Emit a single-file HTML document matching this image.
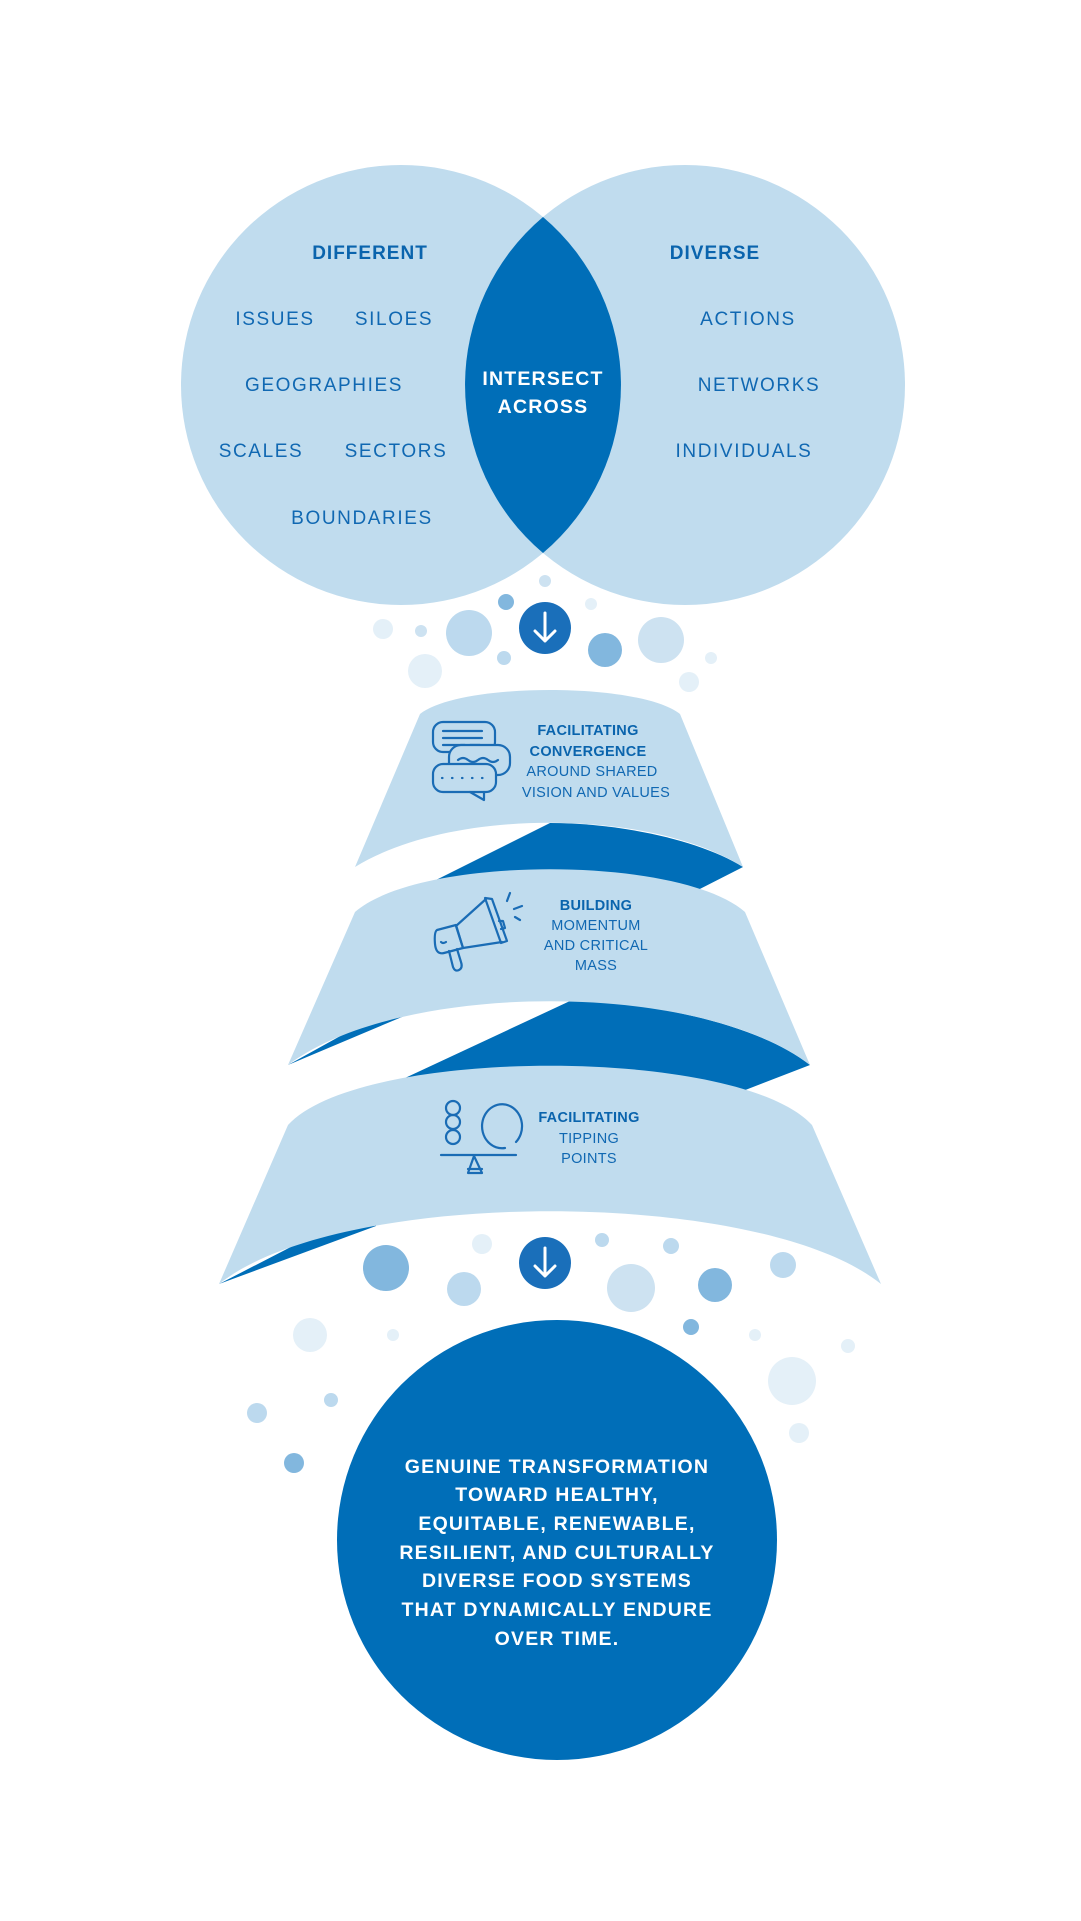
<!DOCTYPE html>
<html><head><meta charset="utf-8"><style>
html,body{margin:0;padding:0;background:#fff}
svg{display:block}
text{font-family:"Liberation Sans",sans-serif}
.v{font-size:19px;fill:#1068b2;letter-spacing:1.6px;text-anchor:middle}
.vb{font-size:19px;fill:#0a64ad;font-weight:bold;letter-spacing:1px;text-anchor:middle}
.f{font-size:14.5px;fill:#1068b2;text-anchor:middle;letter-spacing:0.3px}
.fb{font-size:14.5px;fill:#0a64ad;font-weight:bold;text-anchor:middle;letter-spacing:0.3px}
.w{font-size:19.5px;fill:#fff;font-weight:bold;text-anchor:middle;letter-spacing:1.2px}
.ic{fill:none;stroke:#1a6cb5;stroke-width:2.2;stroke-linecap:round;stroke-linejoin:round}
</style></head><body>
<svg width="1081" height="1921" viewBox="0 0 1081 1921" xmlns="http://www.w3.org/2000/svg">
<!-- Venn -->
<circle cx="401" cy="385" r="220" fill="#c0dcee"/>
<circle cx="685" cy="385" r="220" fill="#c0dcee"/>
<path d="M543,217 A220,220 0 0 1 543,553 A220,220 0 0 1 543,217 Z" fill="#006eb8"/>
<text class="vb" x="370" y="259">DIFFERENT</text>
<text class="v" x="275" y="325">ISSUES</text>
<text class="v" x="394" y="325">SILOES</text>
<text class="v" x="324" y="391">GEOGRAPHIES</text>
<text class="v" x="261" y="457">SCALES</text>
<text class="v" x="396" y="457">SECTORS</text>
<text class="v" x="362" y="524">BOUNDARIES</text>
<text class="vb" x="715" y="259">DIVERSE</text>
<text class="v" x="748" y="325">ACTIONS</text>
<text class="v" x="759" y="391">NETWORKS</text>
<text class="v" x="744" y="457">INDIVIDUALS</text>
<text class="w" x="543" y="385">INTERSECT</text>
<text class="w" x="543" y="413">ACROSS</text>

<!-- bubbles top -->
<g>
<circle cx="383" cy="629" r="10" fill="#e4f0f8"/>
<circle cx="421" cy="631" r="6" fill="#cde2f1"/>
<circle cx="469" cy="633" r="23" fill="#bcd9ee"/>
<circle cx="506" cy="602" r="8" fill="#82b7de"/>
<circle cx="545" cy="581" r="6" fill="#cde2f1"/>
<circle cx="504" cy="658" r="7" fill="#bcd9ee"/>
<circle cx="425" cy="671" r="17" fill="#e4f0f8"/>
<circle cx="591" cy="604" r="6" fill="#e4f0f8"/>
<circle cx="605" cy="650" r="17" fill="#82b7de"/>
<circle cx="661" cy="640" r="23" fill="#cde2f1"/>
<circle cx="711" cy="658" r="6" fill="#e4f0f8"/>
<circle cx="689" cy="682" r="10" fill="#e4f0f8"/>
<circle cx="545" cy="628" r="26" fill="#1a6fba"/>
<path d="M545,613 L545,641 M535,631 L545,641 L555,631" fill="none" stroke="#fff" stroke-width="3" stroke-linecap="round" stroke-linejoin="round"/>
</g>

<!-- funnel darks -->
<path d="M550,823 C620,823 700,840 743,867 L690,894 L420,888 Z" fill="#006eb8"/>
<path d="M570,1001 C650,1001 760,1025 810,1065 L735,1094 L390,1085 Z" fill="#006eb8"/>
<path d="M288,1065 L409,1014 L409,998 Z" fill="#006eb8"/>
<path d="M219,1284 L376,1226 L376,1203 Z" fill="#006eb8"/>

<!-- funnel lights -->
<path d="M420,714 C460,682 640,682 680,714 L743,867 C650,808 450,808 355,867 Z" fill="#c0dcee"/>
<path d="M355,912 C420,855 680,855 745,912 L810,1065 C700,980 400,980 288,1065 Z" fill="#c0dcee"/>
<path d="M288,1125 C360,1046 740,1046 812,1125 L881,1284 C760,1187 340,1187 219,1284 Z" fill="#c0dcee"/>

<!-- layer1 text + icon -->
<text class="fb" x="588" y="735">FACILITATING</text>
<text class="fb" x="588" y="756">CONVERGENCE</text>
<text class="f" x="592" y="776">AROUND SHARED</text>
<text class="f" x="596" y="797">VISION AND VALUES</text>
<g class="ic">
<rect x="433" y="722" width="62" height="30" rx="10"/>
<path d="M443,731 H482 M443,738 H482 M443,745 H465 M470,745 H480"/>
<rect x="449" y="745" width="61" height="30" rx="12" fill="#c0dcee"/>
<path d="M458,760 q5,-4 10,0 t10,0 t10,0 t10,0"/>
<path d="M458,775 L460,783 L470,775"/>
<rect x="433" y="764" width="63" height="28" rx="10" fill="#c0dcee"/>
<path d="M470,792 L484,800 L484,792"/>
<path d="M442,778 h0.5 M452,778 h0.5 M462,778 h0.5 M472,778 h0.5 M482,778 h0.5"/>
</g>

<!-- layer2 text + icon -->
<text class="fb" x="596" y="910">BUILDING</text>
<text class="f" x="596" y="930">MOMENTUM</text>
<text class="f" x="596" y="950">AND CRITICAL</text>
<text class="f" x="596" y="970">MASS</text>
<g class="ic">
<path d="M485,898 L492,899 L507,941 L501,943 Z"/>
<path d="M486,899 L456,926 L463,948 L502,942"/>
<path d="M437,930 L456,925 L463,948 L444,953 Q436,955 435,944 Q434,932 437,930 Z"/>
<path d="M449,951 L453,967 Q455,972 459,970 Q463,968 461,962 L457,949"/>
<path d="M441,942 q2,2 5,0"/>
<path d="M499,921 L503,921 L505,928 L501,929"/>
<path d="M510,893 L507,901 M514,909 L522,906 M515,917 L520,920"/>
</g>

<!-- layer3 text + icon -->
<text class="fb" x="589" y="1122">FACILITATING</text>
<text class="f" x="589" y="1143">TIPPING</text>
<text class="f" x="589" y="1163">POINTS</text>
<g class="ic">
<circle cx="453" cy="1108" r="7"/>
<circle cx="453" cy="1122" r="7"/>
<circle cx="453" cy="1137" r="7"/>
<path d="M516,1142 A20,22 0 1 0 505,1148"/>
<path d="M441,1155 H516"/>
<path d="M474,1156 L468,1173 L482,1173 Z M468,1169 H482"/>
</g>

<!-- bubbles bottom -->
<g>
<circle cx="386" cy="1268" r="23" fill="#82b7de"/>
<circle cx="482" cy="1244" r="10" fill="#e4f0f8"/>
<circle cx="464" cy="1289" r="17" fill="#bcd9ee"/>
<circle cx="602" cy="1240" r="7" fill="#bcd9ee"/>
<circle cx="631" cy="1288" r="24" fill="#cde2f1"/>
<circle cx="671" cy="1246" r="8" fill="#bcd9ee"/>
<circle cx="715" cy="1285" r="17" fill="#82b7de"/>
<circle cx="783" cy="1265" r="13" fill="#bcd9ee"/>
<circle cx="310" cy="1335" r="17" fill="#e4f0f8"/>
<circle cx="393" cy="1335" r="6" fill="#e4f0f8"/>
<circle cx="691" cy="1327" r="8" fill="#82b7de"/>
<circle cx="755" cy="1335" r="6" fill="#e4f0f8"/>
<circle cx="848" cy="1346" r="7" fill="#e4f0f8"/>
<circle cx="792" cy="1381" r="24" fill="#e4f0f8"/>
<circle cx="799" cy="1433" r="10" fill="#e4f0f8"/>
<circle cx="331" cy="1400" r="7" fill="#bcd9ee"/>
<circle cx="257" cy="1413" r="10" fill="#bcd9ee"/>
<circle cx="294" cy="1463" r="10" fill="#82b7de"/>
<circle cx="545" cy="1263" r="26" fill="#1a6fba"/>
<path d="M545,1248 L545,1276 M535,1266 L545,1276 L555,1266" fill="none" stroke="#fff" stroke-width="3" stroke-linecap="round" stroke-linejoin="round"/>
</g>

<!-- final circle -->
<circle cx="557" cy="1540" r="220" fill="#006eb8"/>
<text class="w" x="557" y="1473">GENUINE TRANSFORMATION</text>
<text class="w" x="557" y="1501">TOWARD HEALTHY,</text>
<text class="w" x="557" y="1530">EQUITABLE, RENEWABLE,</text>
<text class="w" x="557" y="1559">RESILIENT, AND CULTURALLY</text>
<text class="w" x="557" y="1587">DIVERSE FOOD SYSTEMS</text>
<text class="w" x="557" y="1616">THAT DYNAMICALLY ENDURE</text>
<text class="w" x="557" y="1645">OVER TIME.</text>
</svg>
</body></html>
